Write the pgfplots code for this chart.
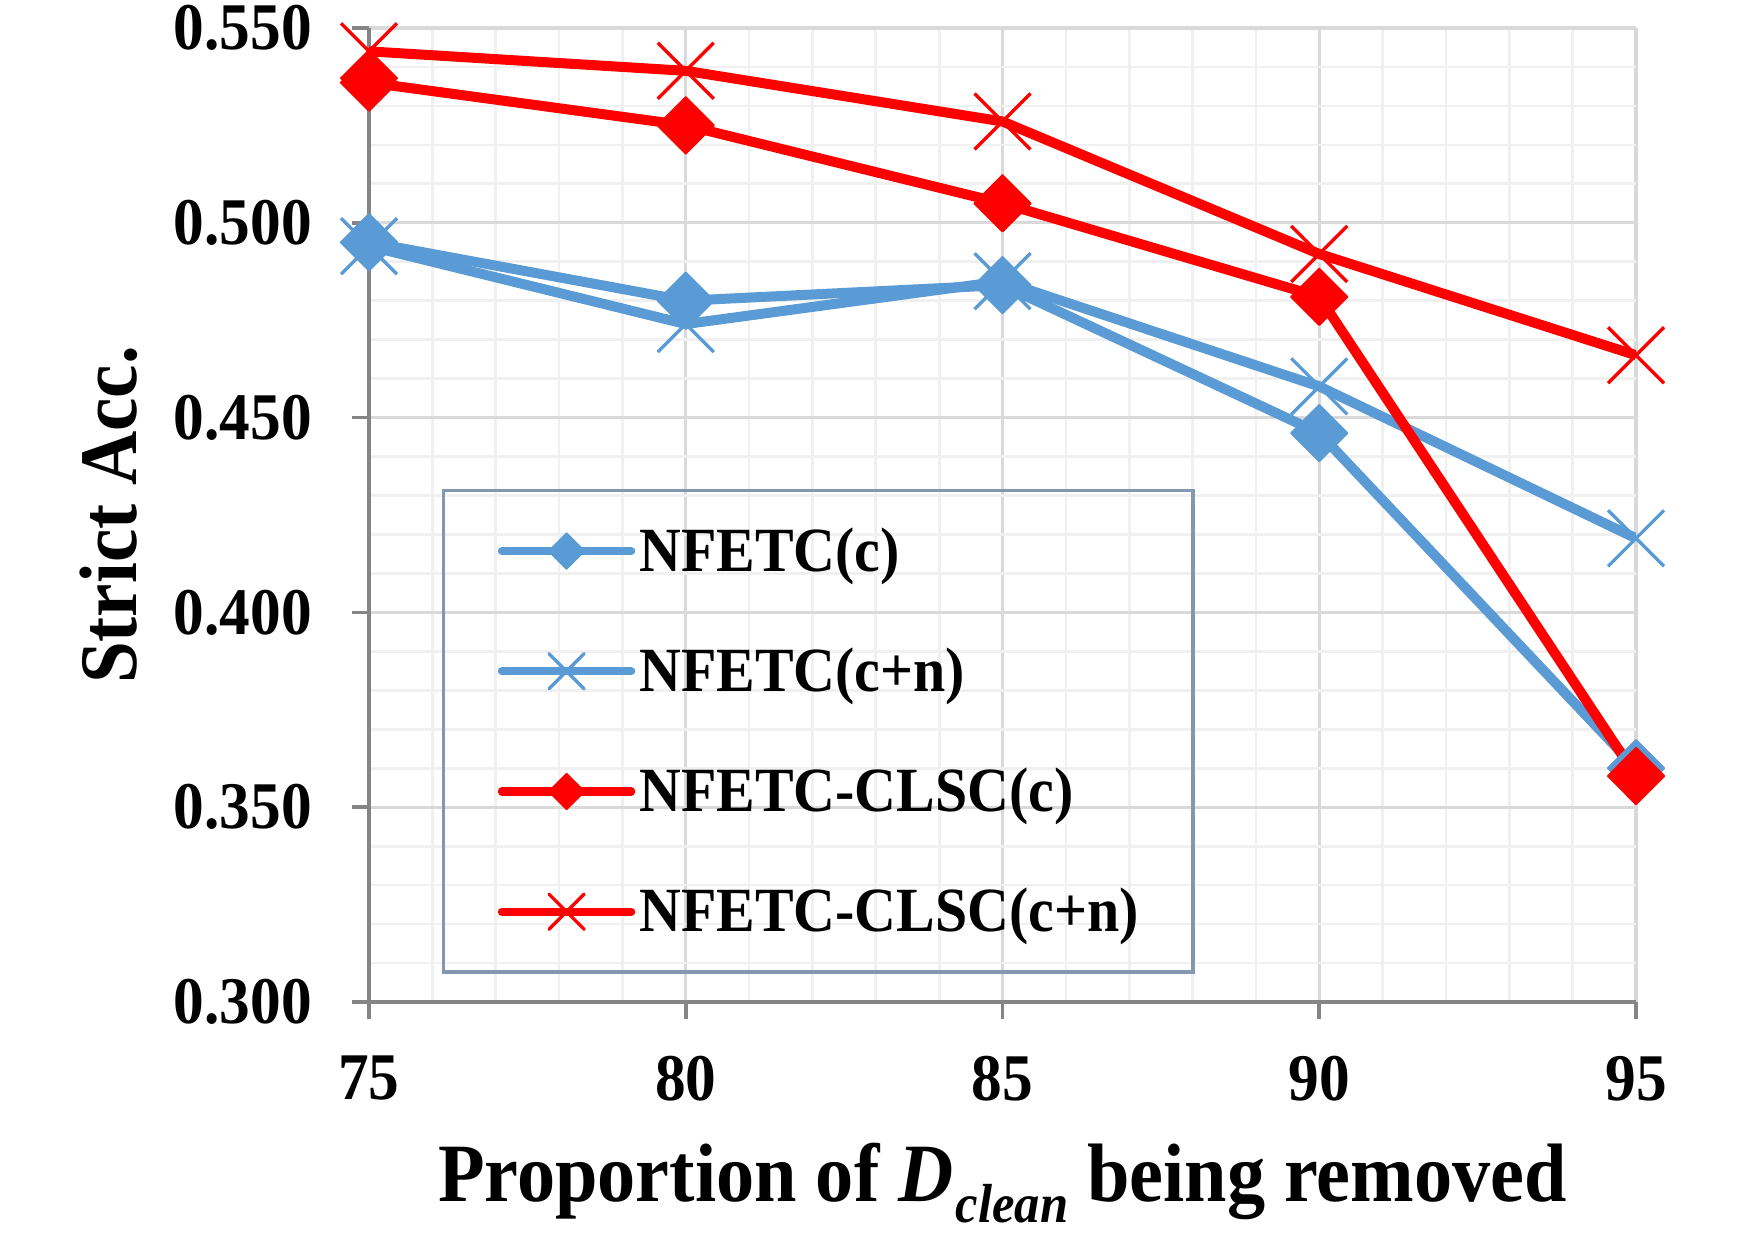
\documentclass[border=0pt]{standalone}
\usepackage{fontspec}
\setmainfont{Liberation Serif}[FakeStretch=0.92]
\usepackage{pgfplots}
\pgfplotsset{compat=1.18}
\usetikzlibrary{calc}

\definecolor{nblue}{HTML}{5B9BD5}
\definecolor{nred}{HTML}{FF0000}
\definecolor{majgrid}{HTML}{D9D9D9}
\definecolor{mingrid}{HTML}{F0F0F0}
\definecolor{axgray}{HTML}{858585}
\definecolor{legframe}{HTML}{8497B0}

\pgfplotsset{
  diamondmark/.style={mark=diamond*, mark size=6.8pt,
    mark options={solid, fill=#1, line width=0.4pt, line join=round, xscale=1.333}},
  crossmark/.style={mark=x, mark size=9.5pt,
    mark options={solid, line width=0.8pt}},
}

\begin{document}
\begin{tikzpicture}
\begin{axis}[
  name=ax,
  scale only axis,
  width=304.08pt, height=233.76pt,
  xmin=75, xmax=95, ymin=0.3, ymax=0.55,
  xtick={75,80,85,90,95},
  ytick={0.30,0.35,0.40,0.45,0.50,0.55},
  minor x tick num=4, minor y tick num=4,
  grid=both,
  major grid style={majgrid, line width=0.75pt},
  minor grid style={mingrid, line width=0.65pt},
  axis x line*=bottom, axis y line*=left,
  axis line style={axgray, line width=0.9pt, -},
  tick align=outside,
  major tick length=4pt, minor tick length=0pt,
  tick style={axgray, line width=0.9pt},
  /pgf/number format/assume math mode=true,
  yticklabel style={xshift=-6.2pt, /pgf/number format/.cd, fixed, fixed zerofill, precision=3},
  xticklabel style={yshift=-5.4pt},
  ticklabel style={font=\fontsize{16}{16}\selectfont\bfseries},
  xlabel={Proportion of \textit{D}\kern0.5pt\raisebox{-5pt}{\fontsize{13.2}{14}\selectfont\textit{clean}} being removed},
  xlabel style={font=\fontsize{19.9}{20}\selectfont\bfseries,
    at={(axis description cs:0.5,-0.2053)}, anchor=base},
  ylabel={Strict Acc.},
  ylabel style={font=\fontsize{19.6}{20}\selectfont\bfseries,
    at={(axis description cs:-0.2055,0.5)}, anchor=center},
  legend cell align=left,
  legend style={
    at={(axis description cs:0.0576,0.5267)}, anchor=north west,
    draw=legframe, line width=0.8pt, fill=none,
    inner xsep=13pt, inner ysep=7.75pt,
    row sep=15.35pt, column sep=1pt,
    font=\fontsize{15.1}{15.1}\selectfont\bfseries,
    nodes={inner sep=0pt, text height=11.55pt, text depth=1.95pt},
  },
  legend image code/.code={
    \draw[mark repeat=2, mark phase=2, line cap=round, #1, line width=2pt,
          every mark/.append style={scale=0.63}]
      plot coordinates {(0pt,0pt) (15.5pt,0pt) (31pt,0pt)};
  },
]
% baseline classifier, clean data only
\addplot[nblue, line width=2.4pt, line join=round, diamondmark=nblue]
  coordinates {(75,0.495) (80,0.480) (85,0.484) (90,0.446) (95,0.360)};
\addlegendentry{NFETC(c)}
% baseline classifier, clean + noisy data
\addplot[nblue, line width=2.4pt, line join=round, crossmark]
  coordinates {(75,0.494) (80,0.474) (85,0.485) (90,0.458) (95,0.419)};
\addlegendentry{NFETC(c+n)}
% with CLSC, clean data only
\addplot[nred, line width=2.4pt, line join=round, diamondmark=nred]
  coordinates {(75,0.536) (80,0.525) (85,0.505) (90,0.481) (95,0.358)};
\addlegendentry{NFETC-CLSC(c)}
% with CLSC, clean + noisy data
\addplot[nred, line width=2.4pt, line join=round, crossmark]
  coordinates {(75,0.544) (80,0.539) (85,0.526) (90,0.492) (95,0.466)};
\addlegendentry{NFETC-CLSC(c+n)}
\end{axis}
\pgfresetboundingbox
\path[use as bounding box]
  ($(ax.south west)+(-88.56pt,-57.36pt)$) rectangle ($(ax.north east)+(28.32pt,6.72pt)$);
\end{tikzpicture}
\end{document}
